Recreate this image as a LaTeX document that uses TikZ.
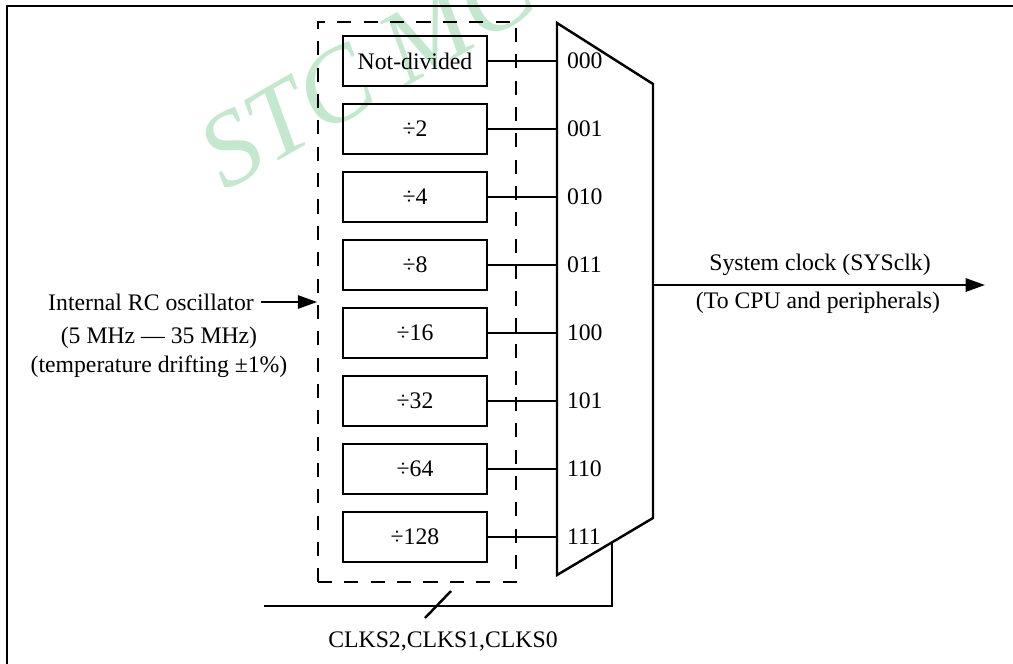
\documentclass[tikz,border=0pt]{standalone}
\usepackage{fontspec}
\setmainfont{Liberation Serif}
\usetikzlibrary{arrows.meta,calc}
\definecolor{stcgreen}{RGB}{196,232,206}

\begin{document}
\begin{tikzpicture}[x=0.02cm,y=-0.02cm,line width=1.4pt,font=\fontsize{13.5}{16}\selectfont,
    divbox/.style={draw,minimum width=2.88cm,minimum height=1cm,inner sep=0pt},
    sel/.style={anchor=west,inner sep=0pt,xshift=5pt},
    tip/.style={-{Triangle[length=11pt,width=7.5pt]}}]
  \useasboundingbox (0,0) rectangle (1013,663);
  % watermark
  \node[stcgreen,rotate=30,anchor=base west,inner sep=0pt,font=\fontsize{60}{60}\selectfont\itshape] (wm) at (224,192) {STC MCU};
  \draw (7,680) -- (7,6) -- (1030,6);
  \node[draw,dashed,dash pattern=on 8pt off 7pt,line width=1pt,minimum width=3.96cm,minimum height=11.2cm] (grp) at (417,302) {};
  \node[divbox] (d0) at (415,61) {Not-divided};
  \node[divbox] (d1) at (415,129) {÷2};
  \node[divbox] (d2) at (415,197) {÷4};
  \node[divbox] (d3) at (415,265) {÷8};
  \node[divbox] (d4) at (415,333) {÷16};
  \node[divbox] (d5) at (415,401) {÷32};
  \node[divbox] (d6) at (415,469) {÷64};
  \node[divbox] (d7) at (415,537) {÷128};
  % multiplexer
  \coordinate (mtl) at (557,23);
  \coordinate (mtr) at (653,84);
  \coordinate (mbr) at (653,518);
  \coordinate (mbl) at (557,575);
  \draw (mtl) -- (mtr) -- (mbr) -- (mbl) -- cycle;
  \draw (d0) -- (d0 -| mtl) node[sel] {000};
  \draw (d1) -- (d1 -| mtl) node[sel] {001};
  \draw (d2) -- (d2 -| mtl) node[sel] {010};
  \draw (d3) -- (d3 -| mtl) node[sel] {011};
  \draw (d4) -- (d4 -| mtl) node[sel] {100};
  \draw (d5) -- (d5 -| mtl) node[sel] {101};
  \draw (d6) -- (d6 -| mtl) node[sel] {110};
  \draw (d7) -- (d7 -| mtl) node[sel] {111};
  % input
  \node (osc) at (151,302) {Internal RC oscillator};
  \node (rng) at (159,338) {(5 MHz — 35 MHz)};
  \node (drift) at (159,367) {(temperature drifting ±1\%)};
  \draw[tip] (osc) -- (grp.west);
  % output
  \coordinate (out) at (653,285);
  \coordinate (cpu) at (985,285);
  \draw[tip] (out) -- (cpu);
  \node (sysclk) at (820,265) {System clock (SYSclk)};
  \node (toper) at (818,303) {(To CPU and peripherals)};
  % select lines
  \coordinate (clk) at (264,606);
  \coordinate (selin) at ($(mbl)!0.573!(mbr)$);
  \draw (clk) -| (selin);
  \draw (425,618) -- (451,591);
  \node (clks) at (443,641) {CLKS2,CLKS1,CLKS0};
\end{tikzpicture}
\end{document}
